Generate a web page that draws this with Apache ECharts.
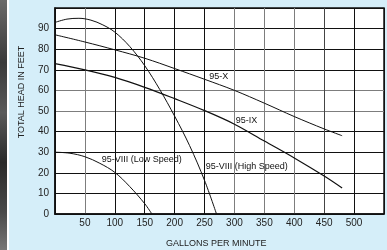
<!DOCTYPE html>
<html>
<head>
<meta charset="utf-8">
<script src="https://cdn.jsdelivr.net/npm/echarts@6/dist/echarts.min.js"></script>
<style>
  html, body { margin: 0; padding: 0; }
  body { width: 387px; height: 250px; background: #d5eef9; position: relative; overflow: hidden; }
  #strip { position: absolute; left: 0; top: 0; width: 7px; height: 250px;
    background: linear-gradient(180deg, #6a6a6a 0%, #3a3a3a 25%, #5a5a5a 45%, #2a2a2a 65%, #4a4a4a 85%, #777 100%); }
  #gap { position: absolute; left: 7px; top: 0; width: 2px; height: 250px; background: #fff; }
  #chart { position: absolute; left: 0; top: 0; width: 387px; height: 250px; }
</style>
</head>
<body>
<div id="strip"></div>
<div id="gap"></div>
<div id="chart"></div>
<script>
// pump curves (gpm -> feet of head)
const xGpm = [0, 50, 100, 150, 200, 250, 300, 350, 400, 450, 480]
const xHead = [87, 83.5, 79.7, 75.6, 70.6, 65.4, 60, 53.8, 47.3, 41.3, 38]

const ixGpm = [0, 50, 100, 150, 200, 250, 300, 350, 400, 450, 480]
const ixHead = [73, 70, 66.3, 61.5, 56, 50.2, 43.6, 35.4, 27.2, 18.4, 12.6]

const highGpm = [0, 20, 40, 60, 80, 100, 125, 150, 175, 200, 225, 250, 270]
const highHead = [93, 94.6, 95, 94.1, 91.8, 88.3, 81.3, 72, 60.5, 47.5, 33.2, 16.3, 0]

const lowGpm = [0, 25, 50, 75, 100, 125, 150, 162]
const lowHead = [30, 29.5, 27.8, 24.6, 20.2, 13.3, 5, 0]

const xTicks = [50, 100, 150, 200, 250, 300, 350, 400, 450, 500]
const yTicks = [0, 10, 20, 30, 40, 50, 60, 70, 80, 90]

const zip = (a, b) => a.map((v, i) => [v, b[i]])

const chart = echarts.init(document.getElementById('chart'))

const font = 'Liberation Sans, Arial, sans-serif'

function curve (name, gpm, head, w, at) {
  return {
    name: name,
    type: 'line',
    data: zip(gpm, head),
    smooth: 0.35,
    showSymbol: false,
    silent: true,
    lineStyle: { color: '#111', width: w },
    markPoint: {
      symbol: 'circle',
      symbolSize: 0,
      data: [{ coord: at }],
      label: {
        show: true,
        position: 'right',
        distance: 0,
        formatter: name,
        color: '#111',
        fontSize: 9,
        fontFamily: font
      }
    },
    z: 5
  }
}

chart.setOption({
  animation: false,
  backgroundColor: 'transparent',
  grid: {
    left: 55,
    right: 3,
    top: 8,
    bottom: 36,
    show: true,
    backgroundColor: '#fff',
    borderColor: '#111',
    borderWidth: 1.5
  },
  xAxis: {
    type: 'value',
    min: 0,
    max: 550,
    interval: 50,
    axisLine: { show: true, lineStyle: { color: '#111', width: 1.5 } },
    axisTick: { show: false },
    axisLabel: {
      margin: 4,
      fontSize: 10,
      fontFamily: font,
      color: '#222',
      formatter: v => (xTicks.indexOf(v) >= 0 ? String(v) : '')
    },
    splitLine: {
      show: true,
      lineStyle: {
        width: 1,
        color: ['#111', '#7d7d7d', '#111', '#111', '#111', '#111', '#7d7d7d', '#7d7d7d', '#7d7d7d', '#444', '#111', '#111']
      }
    }
  },
  yAxis: {
    type: 'value',
    min: 0,
    max: 100,
    interval: 10,
    axisLine: { show: true, lineStyle: { color: '#111', width: 1.5 } },
    axisTick: { show: false },
    axisLabel: {
      margin: 6,
      fontSize: 10,
      fontFamily: font,
      color: '#222',
      formatter: v => (yTicks.indexOf(v) >= 0 ? String(v) : '')
    },
    splitLine: {
      show: true,
      lineStyle: {
        width: 1,
        color: ['#111', '#111', '#111', '#111', '#111', '#7d7d7d', '#7d7d7d', '#111', '#111', '#111', '#111']
      }
    }
  },
  graphic: [
    {
      type: 'text',
      left: 166,
      top: 239,
      style: { text: 'GALLONS PER MINUTE', fontSize: 9, fontFamily: font, fill: '#222' }
    },
    {
      type: 'text',
      x: 22,
      y: 92,
      rotation: Math.PI / 2,
      style: {
        text: 'TOTAL HEAD IN FEET',
        fontSize: 9,
        fontFamily: font,
        fill: '#222',
        align: 'center',
        verticalAlign: 'middle'
      }
    }
  ],
  series: [
    curve('95-X', xGpm, xHead, 1, [258, 66.6]),
    curve('95-IX', ixGpm, ixHead, 1.2, [302, 45.6]),
    curve('95-VIII (High Speed)', highGpm, highHead, 1, [252, 23]),
    curve('95-VIII (Low Speed)', lowGpm, lowHead, 1, [78, 26.6])
  ]
})
</script>
</body>
</html>
